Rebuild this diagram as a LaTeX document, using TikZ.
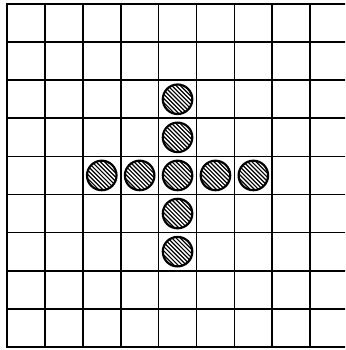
\documentclass[tikz,border=0pt]{standalone}
\begin{document}
\begin{tikzpicture}[x=1pt,y=-1pt,
  gridline/.style={line width=1.7pt, black},
  borderline/.style={line width=2.8pt, black},
  stone/.style={circle, draw, line width=2.2pt, minimum size=29.5pt, inner sep=0pt,
    path picture={
      \foreach \k in {-17,-14.9,...,17}{
        \draw[line width=1.2pt] ([shift={(\k pt-20pt,\k pt+20pt)}]path picture bounding box.center) -- ++(40pt,-40pt);
      }
    }}]
\useasboundingbox (0,0) rectangle (345,350);
\clip (0,0) rectangle (345,350);
\fill[white] (0,0) rectangle (345,350);
\foreach \i in {1,...,8} \draw[gridline] ({7+37.9*\i},4) -- ({7+37.9*\i},347);
\foreach \j in {1,...,8} \draw[gridline] (7,{4+38.1*\j}) -- (350,{4+38.1*\j});
\draw[borderline] (350,4) -- (7,4) -- (7,347) -- (350,347);
% horizontal arm (middle row)
\foreach \i in {2,...,6}
  \node[stone] (r\i) at ({7+37.9*(\i+0.5)},{4+38.1*4.5}) {};
% vertical arm (middle column)
\foreach \j in {2,3,5,6}
  \node[stone] (c\j) at ({7+37.9*4.5},{4+38.1*(\j+0.5)}) {};
\end{tikzpicture}
\end{document}
